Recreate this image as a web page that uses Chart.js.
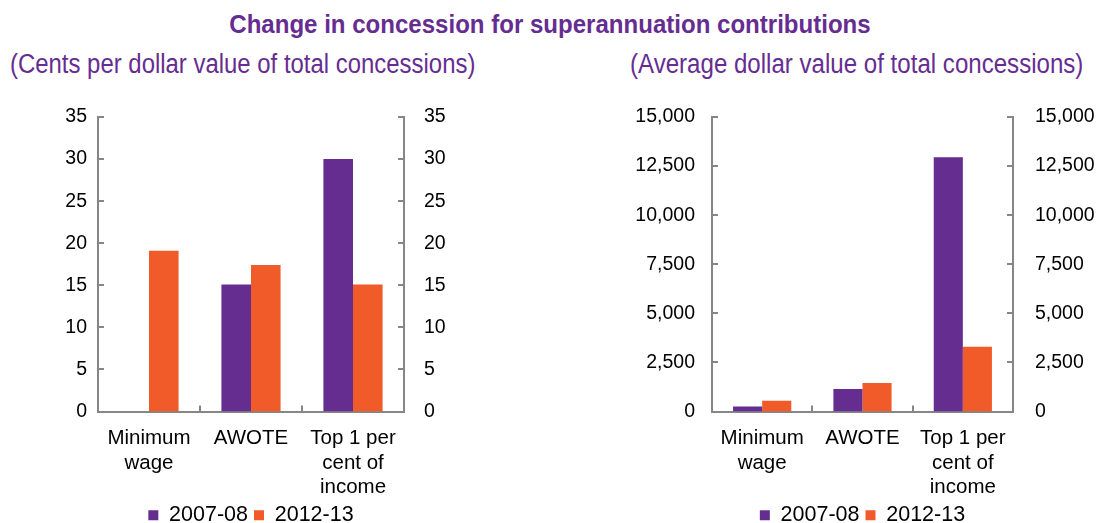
<!DOCTYPE html>
<html>
<head>
<meta charset="utf-8">
<script src="https://cdn.jsdelivr.net/npm/chart.js@4.4.0/dist/chart.umd.min.js"></script>
<style>
  html, body { margin:0; padding:0; background:#fff; width:1100px; height:523px; overflow:hidden; font-family:"Liberation Sans", Arial, sans-serif; }
  .t { position:absolute; white-space:nowrap; color:#662D91; line-height:1; }
  #title { left:550px; top:11px; font-size:26px; font-weight:bold; transform:translateX(-50%) scaleX(0.925); transform-origin:center top; }
  #sub1 { left:10px; top:51px; font-size:27px; transform:scaleX(0.886); transform-origin:left top; }
  #sub2 { left:630px; top:51px; font-size:27px; transform:scaleX(0.892); transform-origin:left top; }
  .cv { position:absolute; top:95px; width:550px; height:446px; }
</style>
</head>
<body>
<div id="title" class="t">Change in concession for superannuation contributions</div>
<div id="sub1" class="t">(Cents per dollar value of total concessions)</div>
<div id="sub2" class="t">(Average dollar value of total concessions)</div>
<div class="cv" style="left:0"><canvas id="c1" width="550" height="446"></canvas></div>
<div class="cv" style="left:550px"><canvas id="c2" width="550" height="446"></canvas></div>
<script>
const categories = [['Minimum','wage'], ['AWOTE'], ['Top 1 per','cent of','income']];
const seriesNames = ['2007-08', '2012-13'];
const cents0708 = [0, 15.1, 30];
const cents1213 = [19.1, 17.4, 15.1];
const dollars0708 = [250, 1150, 12950];
const dollars1213 = [550, 1450, 3300];
const centsTicks = { max: 35, step: 5 };
const dollarTicks = { max: 15000, step: 2500 };

const PURPLE = '#652D90';
const ORANGE = '#F15A29';
const AXIS = '#868686';
const FONT = "'Liberation Sans', Arial, sans-serif";

const inwardTicks = {
  id: 'inwardTicks',
  afterDraw(chart) {
    const ctx = chart.ctx;
    const { left, right, bottom } = chart.chartArea;
    ctx.save();
    ctx.strokeStyle = AXIS;
    ctx.lineWidth = 2;
    ctx.beginPath();
    const y = chart.scales.y;
    y.ticks.forEach(t => {
      const p = Math.round(y.getPixelForValue(t.value));
      ctx.moveTo(left, p); ctx.lineTo(left + 6, p);
      ctx.moveTo(right, p); ctx.lineTo(right - 6, p);
    });
    const x = chart.scales.x;
    for (let i = 0; i < categories.length - 1; i++) {
      const p = Math.round((x.getPixelForTick(i) + x.getPixelForTick(i + 1)) / 2);
      ctx.moveTo(p, bottom); ctx.lineTo(p, bottom - 6);
    }
    ctx.stroke();
    ctx.restore();
  }
};

// keep the legend centred under the plot area and nudge it up a little
const legendPlace = {
  id: 'legendPlace',
  afterLayout(chart) {
    const lg = chart.legend;
    if (!lg) return;
    const ca = chart.chartArea;
    const dx = (ca.left + ca.right) / 2 - (lg.left + lg.right) / 2;
    lg.left += dx; lg.right += dx;
    lg.top -= 5; lg.bottom -= 5;
  }
};

function makeChart(id, d1, d2, tk, fmt, leftW, rightW, padL, padR) {
  const yCommon = {
    min: 0, max: tk.max,
    grid: { display: false, drawTicks: false, tickLength: 0 },
    border: { display: true, color: AXIS, width: 2 },
    ticks: { stepSize: tk.step, color: '#000', font: { family: FONT, size: 19.5 }, callback: fmt }
  };
  const fixW = w => s => { s.width = w; s.paddingTop = 0; s.paddingBottom = 0; };
  return new Chart(document.getElementById(id), {
    type: 'bar',
    data: {
      labels: categories,
      datasets: [
        { label: seriesNames[0], data: d1, backgroundColor: PURPLE, yAxisID: 'y' },
        { label: seriesNames[1], data: d2, backgroundColor: ORANGE, yAxisID: 'y' }
      ]
    },
    options: {
      responsive: false,
      animation: false,
      events: [],
      layout: { padding: { top: 22, left: 0, right: 0, bottom: 0 } },
      datasets: { bar: { categoryPercentage: 0.58, barPercentage: 1.0 } },
      plugins: {
        tooltip: { enabled: false },
        legend: {
          position: 'bottom',
          labels: { color: '#000', font: { family: FONT, size: 21.5 }, boxWidth: 10, boxHeight: 10, padding: 6 }
        }
      },
      scales: {
        x: {
          grid: { display: false, drawTicks: false, tickLength: 0 },
          border: { display: true, color: AXIS, width: 2 },
          ticks: { color: '#000', font: { family: FONT, size: 20.5, lineHeight: 1.195 }, padding: 15, maxRotation: 0, autoSkip: false },
          afterFit: s => { s.height = 92; }
        },
        y: Object.assign({}, yCommon, {
          position: 'left',
          ticks: Object.assign({}, yCommon.ticks, { padding: padL }),
          afterFit: fixW(leftW)
        }),
        y2: Object.assign({}, yCommon, {
          position: 'right',
          ticks: Object.assign({}, yCommon.ticks, { padding: padR }),
          afterFit: fixW(rightW)
        })
      }
    },
    plugins: [inwardTicks, legendPlace]
  });
}

const fmtCents = v => String(v);
const fmtDollars = v => v.toLocaleString('en-US');
makeChart('c1', cents0708, cents1213, centsTicks, fmtCents, 98, 146, 11, 20);
makeChart('c2', dollars0708, dollars1213, dollarTicks, fmtDollars, 162, 87, 17, 22);
</script>
</body>
</html>
